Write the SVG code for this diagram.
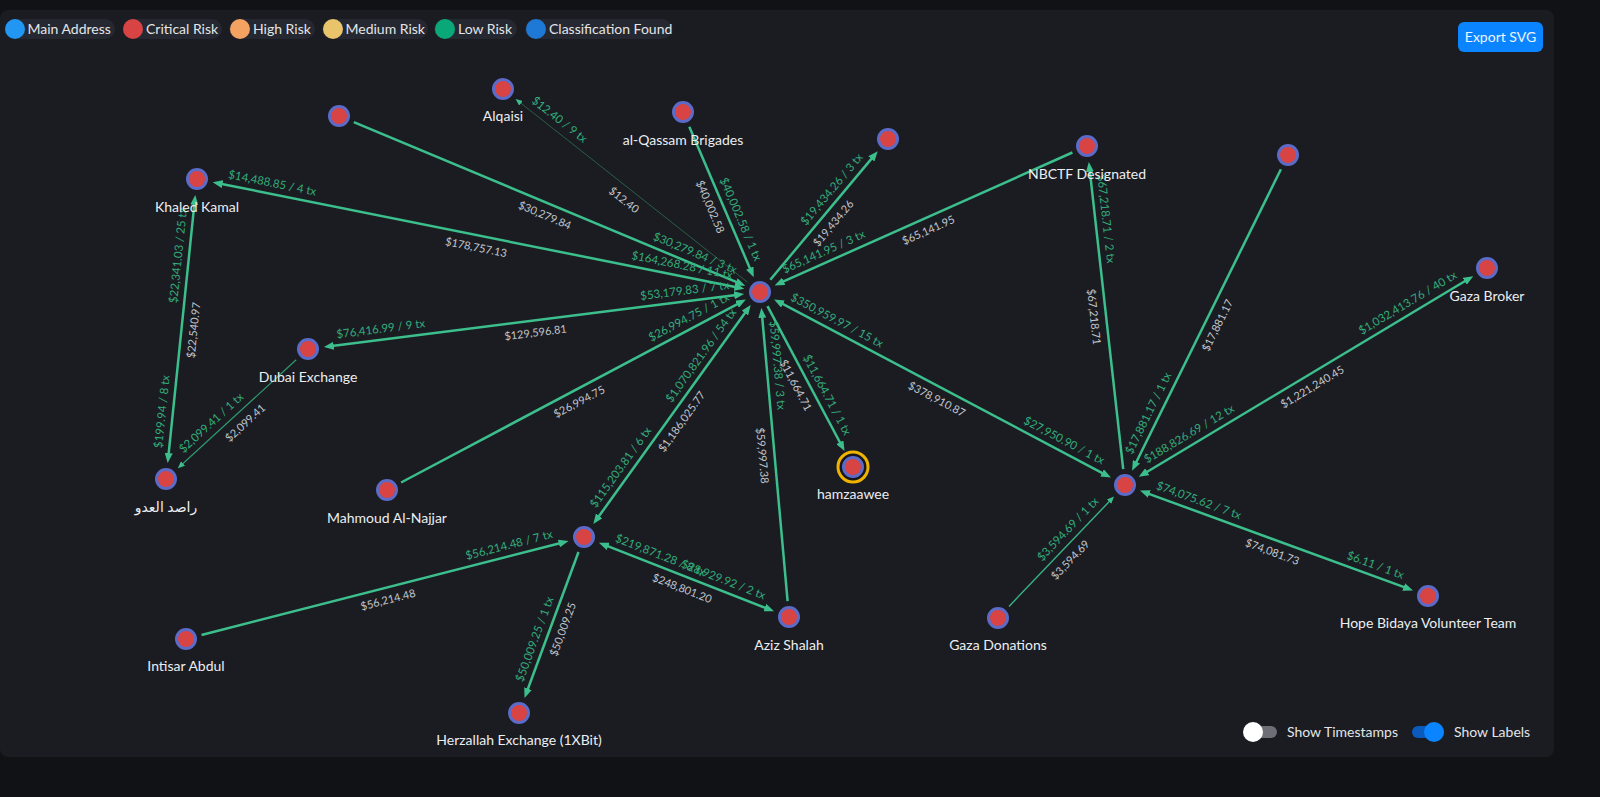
<svg xmlns="http://www.w3.org/2000/svg" width="1600" height="797" viewBox="0 0 1600 797">
<style>
text{font-family:Lato,"DejaVu Sans","Noto Sans",sans-serif}
.edge{stroke:#3cbf8c;stroke-width:2.5;fill:none}
.thin{stroke:#2a5f46;stroke-width:1;fill:none}
.mid{stroke:#38b485;stroke-width:1.4;fill:none}
.gl{font-size:11.5px;fill:#33ad7b}
.wl{font-size:11px;fill:#c3c6cc}
.node circle.n{fill:#d84343;stroke:#5b6bc7;stroke-width:3}
.nl{font-size:14px;fill:#eceef1;text-anchor:middle}
.lg{font-size:14px;fill:#e3e5e8}
.pill{fill:#252830}
</style>
<defs>
<marker id="arr" markerUnits="userSpaceOnUse" markerWidth="10" markerHeight="8" refX="2" refY="4" orient="auto-start-reverse" viewBox="0 0 10 8"><path d="M0,0 L10,4 L0,8 z" fill="#3cbf8c"/></marker>
<marker id="arrs" markerUnits="userSpaceOnUse" markerWidth="7" markerHeight="6" refX="3" refY="3" orient="auto-start-reverse" viewBox="0 0 7 6"><path d="M0,0 L7,3 L0,6 z" fill="#3cbf8c"/></marker>
<path id="pa" d="M503,89 L760,292"/>
<path id="pb" d="M339,116 L760,292"/>
<path id="pc" d="M197,179 L760,292"/>
<path id="pd" d="M683,112 L760,292"/>
<path id="pe" d="M760,292 L888,139"/>
<path id="pf" d="M760,292 L1087,146"/>
<path id="pg" d="M308,349 L760,292"/>
<path id="ph" d="M387,490 L760,292"/>
<path id="pi" d="M584,537 L760,292"/>
<path id="pj" d="M760,292 L789,617"/>
<path id="pk" d="M760,292 L853,467"/>
<path id="pl" d="M760,292 L1125,485"/>
<path id="pm" d="M1087,146 L1125,485"/>
<path id="pn" d="M1125,485 L1288,155"/>
<path id="po" d="M1125,485 L1487,268"/>
<path id="pp" d="M998,618 L1125,485"/>
<path id="pq" d="M1125,485 L1428,596"/>
<path id="pr" d="M166,479 L197,179"/>
<path id="ps" d="M166,479 L308,349"/>
<path id="pt" d="M186,639 L584,537"/>
<path id="pu" d="M519,713 L584,537"/>
<path id="pv" d="M584,537 L789,617"/>
</defs>
<rect width="1600" height="797" fill="#111215"/>
<rect x="0" y="10" width="1554" height="747" rx="8" fill="#1a1c22"/>

<g id="legend">
<rect class="pill" x="5" y="19" width="110" height="20" rx="10"/><circle cx="15" cy="29" r="10" fill="#2196f3"/><text class="lg" x="27.5" y="34">Main Address</text>
<rect class="pill" x="123" y="19" width="99" height="20" rx="10"/><circle cx="133" cy="29" r="10" fill="#d84343"/><text class="lg" x="146" y="34">Critical Risk</text>
<rect class="pill" x="229" y="19" width="86" height="20" rx="10"/><circle cx="240" cy="29" r="10" fill="#f4a261"/><text class="lg" x="253" y="34">High Risk</text>
<rect class="pill" x="322" y="19" width="106" height="20" rx="10"/><circle cx="333" cy="29" r="10" fill="#e9c46a"/><text class="lg" x="345.5" y="34">Medium Risk</text>
<rect class="pill" x="434" y="19" width="83" height="20" rx="10"/><circle cx="445" cy="29" r="10" fill="#0aa879"/><text class="lg" x="458" y="34">Low Risk</text>
<rect class="pill" x="525" y="19" width="147" height="20" rx="10"/><circle cx="536" cy="29" r="10" fill="#1e78d6"/><text class="lg" x="549" y="34">Classification Found</text>
</g>

<g id="export-button">
<rect x="1458" y="22" width="85" height="30" rx="6" fill="#0a84ff"/>
<text x="1500.5" y="42" font-size="14" fill="#eef4ff" text-anchor="middle">Export SVG</text>
</g>

<g id="connectors">
<line class="thin" x1="747.4" y1="282.1" x2="518.7" y2="101.4" marker-end="url(#arrs)"/>
<line class="edge" x1="353.8" y1="122.2" x2="737.9" y2="282.7" marker-end="url(#arr)"/>
<line class="edge" x1="220.5" y1="183.7" x2="736.5" y2="287.3" marker-start="url(#arr)" marker-end="url(#arr)"/>
<line class="edge" x1="689.3" y1="126.7" x2="750.6" y2="269.9" marker-end="url(#arr)"/>
<line class="edge" x1="770.3" y1="279.7" x2="872.6" y2="157.4" marker-end="url(#arr)"/>
<line class="edge" x1="1072.4" y1="152.5" x2="781.9" y2="282.2" marker-end="url(#arr)"/>
<line class="edge" x1="331.8" y1="346.0" x2="736.2" y2="295.0" marker-start="url(#arr)" marker-end="url(#arr)"/>
<line class="edge" x1="401.1" y1="482.5" x2="738.8" y2="303.3" marker-end="url(#arr)"/>
<line class="edge" x1="598.0" y1="517.5" x2="746.0" y2="311.5" marker-start="url(#arr)" marker-end="url(#arr)"/>
<line class="edge" x1="787.6" y1="601.1" x2="762.1" y2="315.9" marker-end="url(#arr)"/>
<line class="edge" x1="767.5" y1="306.1" x2="840.8" y2="444.0" marker-end="url(#arr)"/>
<line class="edge" x1="781.2" y1="303.2" x2="1103.8" y2="473.8" marker-start="url(#arr)" marker-end="url(#arr)"/>
<line class="edge" x1="1123.2" y1="469.1" x2="1089.7" y2="169.9" marker-end="url(#arr)"/>
<line class="edge" x1="1280.9" y1="169.3" x2="1135.6" y2="463.5" marker-end="url(#arr)"/>
<line class="edge" x1="1145.6" y1="472.7" x2="1466.4" y2="280.3" marker-start="url(#arr)" marker-end="url(#arr)"/>
<line class="mid" x1="1009.0" y1="606.4" x2="1111.2" y2="499.5" marker-end="url(#arrs)"/>
<line class="edge" x1="1147.5" y1="493.3" x2="1405.5" y2="587.7" marker-start="url(#arr)" marker-end="url(#arr)"/>
<line class="edge" x1="168.5" y1="455.1" x2="194.5" y2="202.9" marker-start="url(#arr)" marker-end="url(#arr)"/>
<line class="mid" x1="296.2" y1="359.8" x2="180.8" y2="465.5" marker-end="url(#arrs)" style="stroke:#30996d;stroke-width:1.2"/>
<line class="edge" x1="201.5" y1="635.0" x2="560.8" y2="543.0" marker-end="url(#arr)"/>
<line class="edge" x1="578.5" y1="552.0" x2="527.3" y2="690.5" marker-end="url(#arr)"/>
<line class="edge" x1="606.4" y1="545.7" x2="766.6" y2="608.3" marker-start="url(#arr)" marker-end="url(#arr)"/>

<text class="gl" dy="-7"><textPath href="#pa" startOffset="30">$12.40 / 9 tx</textPath></text>
<text class="wl" dy="16" text-anchor="middle"><textPath href="#pa" startOffset="50%">$12.40</textPath></text>
<text class="gl" dy="-7" text-anchor="end"><textPath href="#pb" startOffset="426">$30,279.84 / 3 tx</textPath></text>
<text class="wl" dy="16" text-anchor="middle"><textPath href="#pb" startOffset="50%">$30,279.84</textPath></text>
<text class="gl" dy="-7"><textPath href="#pc" startOffset="30">$14,488.85 / 4 tx</textPath></text>
<text class="gl" dy="-7" text-anchor="end"><textPath href="#pc" startOffset="544">$164,268.28 / 11 tx</textPath></text>
<text class="wl" dy="16" text-anchor="middle"><textPath href="#pc" startOffset="50%">$178,757.13</textPath></text>
<text class="gl" dy="-7" text-anchor="end"><textPath href="#pd" startOffset="166">$40,002.58 / 1 tx</textPath></text>
<text class="wl" dy="16" text-anchor="middle"><textPath href="#pd" startOffset="50%">$40,002.58</textPath></text>
<text class="gl" dy="-7" text-anchor="end"><textPath href="#pe" startOffset="169.5">$19,434.26 / 3 tx</textPath></text>
<text class="wl" dy="16" text-anchor="middle"><textPath href="#pe" startOffset="50%">$19,434.26</textPath></text>
<text class="gl" dy="-7"><textPath href="#pf" startOffset="30">$65,141.95 / 3 tx</textPath></text>
<text class="wl" dy="16" text-anchor="middle"><textPath href="#pf" startOffset="50%">$65,141.95</textPath></text>
<text class="gl" dy="-7"><textPath href="#pg" startOffset="30">$76,416.99 / 9 tx</textPath></text>
<text class="gl" dy="-7" text-anchor="end"><textPath href="#pg" startOffset="425.6">$53,179.83 / 7 tx</textPath></text>
<text class="wl" dy="16" text-anchor="middle"><textPath href="#pg" startOffset="50%">$129,596.81</textPath></text>
<text class="gl" dy="-7" text-anchor="end"><textPath href="#ph" startOffset="392.3">$26,994.75 / 1 tx</textPath></text>
<text class="wl" dy="16" text-anchor="middle"><textPath href="#ph" startOffset="50%">$26,994.75</textPath></text>
<text class="gl" dy="-7"><textPath href="#pi" startOffset="30">$115,203.81 / 6 tx</textPath></text>
<text class="gl" dy="-7" text-anchor="end"><textPath href="#pi" startOffset="271.7">$1,070,821.96 / 54 tx</textPath></text>
<text class="wl" dy="16" text-anchor="middle"><textPath href="#pi" startOffset="50%">$1,186,025.77</textPath></text>
<text class="gl" dy="-7"><textPath href="#pj" startOffset="30">$59,997.38 / 3 tx</textPath></text>
<text class="wl" dy="16" text-anchor="middle"><textPath href="#pj" startOffset="50%">$59,997.38</textPath></text>
<text class="gl" dy="-7" text-anchor="end"><textPath href="#pk" startOffset="167">$11,664.71 / 1 tx</textPath></text>
<text class="wl" dy="16" text-anchor="middle"><textPath href="#pk" startOffset="50%">$11,664.71</textPath></text>
<text class="gl" dy="-7"><textPath href="#pl" startOffset="30">$350,959.97 / 15 tx</textPath></text>
<text class="gl" dy="-7" text-anchor="end"><textPath href="#pl" startOffset="382.9">$27,950.90 / 1 tx</textPath></text>
<text class="wl" dy="16" text-anchor="middle"><textPath href="#pl" startOffset="50%">$378,910.87</textPath></text>
<text class="gl" dy="-7"><textPath href="#pm" startOffset="30">$67,218.71 / 2 tx</textPath></text>
<text class="wl" dy="16" text-anchor="middle"><textPath href="#pm" startOffset="50%">$67,218.71</textPath></text>
<text class="gl" dy="-7"><textPath href="#pn" startOffset="30">$17,881.17 / 1 tx</textPath></text>
<text class="wl" dy="16" text-anchor="middle"><textPath href="#pn" startOffset="50%">$17,881.17</textPath></text>
<text class="gl" dy="-7"><textPath href="#po" startOffset="30">$188,826.69 / 12 tx</textPath></text>
<text class="gl" dy="-7" text-anchor="end"><textPath href="#po" startOffset="392.1">$1,032,413.76 / 40 tx</textPath></text>
<text class="wl" dy="16" text-anchor="middle"><textPath href="#po" startOffset="50%">$1,221,240.45</textPath></text>
<text class="gl" dy="-7" text-anchor="end"><textPath href="#pp" startOffset="153.9">$3,594.69 / 1 tx</textPath></text>
<text class="wl" dy="16" text-anchor="middle"><textPath href="#pp" startOffset="50%">$3,594.69</textPath></text>
<text class="gl" dy="-7"><textPath href="#pq" startOffset="30">$74,075.62 / 7 tx</textPath></text>
<text class="gl" dy="-7" text-anchor="end"><textPath href="#pq" startOffset="292.7">$6.11 / 1 tx</textPath></text>
<text class="wl" dy="16" text-anchor="middle"><textPath href="#pq" startOffset="50%">$74,081.73</textPath></text>
<text class="gl" dy="-7"><textPath href="#pr" startOffset="30">$199.94 / 8 tx</textPath></text>
<text class="gl" dy="-7" text-anchor="end"><textPath href="#pr" startOffset="271.6">$22,341.03 / 25 tx</textPath></text>
<text class="wl" dy="16" text-anchor="middle"><textPath href="#pr" startOffset="50%">$22,540.97</textPath></text>
<text class="gl" dy="-7"><textPath href="#ps" startOffset="30">$2,099.41 / 1 tx</textPath></text>
<text class="wl" dy="16" text-anchor="middle"><textPath href="#ps" startOffset="50%">$2,099.41</textPath></text>
<text class="gl" dy="-7" text-anchor="end"><textPath href="#pt" startOffset="380.9">$56,214.48 / 7 tx</textPath></text>
<text class="wl" dy="16" text-anchor="middle"><textPath href="#pt" startOffset="50%">$56,214.48</textPath></text>
<text class="gl" dy="-7"><textPath href="#pu" startOffset="30">$50,009.25 / 1 tx</textPath></text>
<text class="wl" dy="16" text-anchor="middle"><textPath href="#pu" startOffset="50%">$50,009.25</textPath></text>
<text class="gl" dy="-7"><textPath href="#pv" startOffset="30">$219,871.28 / 8 tx</textPath></text>
<text class="gl" dy="-7" text-anchor="end"><textPath href="#pv" startOffset="190.1">$28,929.92 / 2 tx</textPath></text>
<text class="wl" dy="16" text-anchor="middle"><textPath href="#pv" startOffset="50%">$248,801.20</textPath></text>
</g>

<g id="node-hub" class="node"><circle class="n" cx="760" cy="292" r="9.5"/></g>
<g id="node-alqaisi" class="node"><circle class="n" cx="503" cy="89" r="9.5"/><text class="nl" x="503" y="121">Alqaisi</text></g>
<g id="node-unnamed-1" class="node"><circle class="n" cx="339" cy="116" r="9.5"/></g>
<g id="node-khaled-kamal" class="node"><circle class="n" cx="197" cy="179" r="9.5"/><text class="nl" x="197" y="211.5">Khaled Kamal</text></g>
<g id="node-dubai-exchange" class="node"><circle class="n" cx="308" cy="349" r="9.5"/><text class="nl" x="308" y="381.5">Dubai Exchange</text></g>
<g id="node-al-qassam" class="node"><circle class="n" cx="683" cy="112" r="9.5"/><text class="nl" x="683" y="144.5">al-Qassam Brigades</text></g>
<g id="node-unnamed-2" class="node"><circle class="n" cx="888" cy="139" r="9.5"/></g>
<g id="node-nbctf" class="node"><circle class="n" cx="1087" cy="146" r="9.5"/><text class="nl" x="1087" y="178.5">NBCTF Designated</text></g>
<g id="node-unnamed-3" class="node"><circle class="n" cx="1288" cy="155" r="9.5"/></g>
<g id="node-gaza-broker" class="node"><circle class="n" cx="1487" cy="268" r="9.5"/><text class="nl" x="1487" y="300.5">Gaza Broker</text></g>
<g id="node-rased" class="node"><circle class="n" cx="166" cy="479" r="9.5"/><text class="nl" x="166" y="511.5">راصد العدو</text></g>
<g id="node-mahmoud" class="node"><circle class="n" cx="387" cy="490" r="9.5"/><text class="nl" x="387" y="522.5">Mahmoud Al-Najjar</text></g>
<g id="node-hub-2" class="node"><circle class="n" cx="584" cy="537" r="9.5"/></g>
<g id="node-hamzaawee" class="node"><circle cx="853" cy="467" r="15" fill="#15171c" stroke="#f0b400" stroke-width="3"/><circle class="n" cx="853" cy="467" r="9.5"/><text class="nl" x="853" y="498.5">hamzaawee</text></g>
<g id="node-aziz-shalah" class="node"><circle class="n" cx="789" cy="617" r="9.5"/><text class="nl" x="789" y="649.5">Aziz Shalah</text></g>
<g id="node-gaza-donations" class="node"><circle class="n" cx="998" cy="618" r="9.5"/><text class="nl" x="998" y="649.5">Gaza Donations</text></g>
<g id="node-hub-3" class="node"><circle class="n" cx="1125" cy="485" r="9.5"/></g>
<g id="node-hope-bidaya" class="node"><circle class="n" cx="1428" cy="596" r="9.5"/><text class="nl" x="1428" y="627.5">Hope Bidaya Volunteer Team</text></g>
<g id="node-intisar" class="node"><circle class="n" cx="186" cy="639" r="9.5"/><text class="nl" x="186" y="671">Intisar Abdul</text></g>
<g id="node-herzallah" class="node"><circle class="n" cx="519" cy="713" r="9.5"/><text class="nl" x="519" y="745">Herzallah Exchange (1XBit)</text></g>

<g id="toggles">
<rect x="1244" y="726" width="33" height="12" rx="6" fill="#6c6f76"/>
<circle cx="1253" cy="732" r="10" fill="#ffffff"/>
<text class="lg" x="1287" y="737" font-size="14">Show Timestamps</text>
<rect x="1412" y="726" width="32" height="12" rx="6" fill="#0b5bbd"/>
<circle cx="1434" cy="732" r="10" fill="#0a84ff"/>
<text class="lg" x="1454" y="737" font-size="14">Show Labels</text>
</g>
</svg>
